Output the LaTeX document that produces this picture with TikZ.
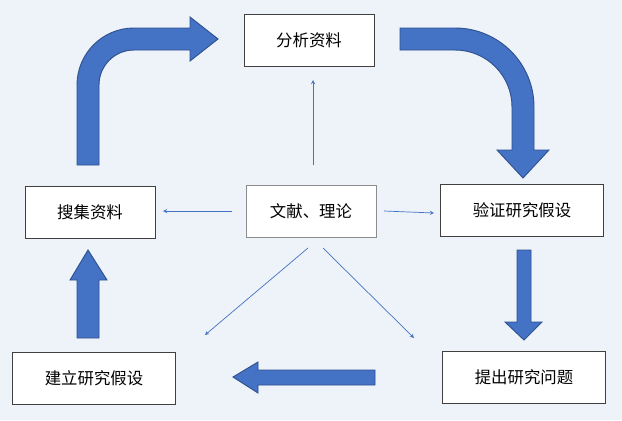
\documentclass[tikz,border=0pt]{standalone}
\usepackage{fontspec}
\newfontfamily\cjk{Noto Sans CJK SC}
\definecolor{bgblue}{HTML}{EEF2F9}
\definecolor{arrowblue}{HTML}{4472C4}
\definecolor{edgeblue}{HTML}{2F528F}
\tikzset{
  box/.style={draw=black!75,fill=white,line width=0.6pt,minimum height=1.56cm,
    inner sep=0pt,font=\cjk\fontsize{14}{16}\selectfont},
  thin/.style={draw=arrowblue,line width=0.6pt,-stealth},
  bigarrow/.style={fill=arrowblue,draw=edgeblue,line width=0.8pt}
}
\begin{document}
\begin{tikzpicture}[x=0.03cm,y=-0.03cm]
  \fill[bgblue] (0,0) rectangle (622,420);
  \useasboundingbox (0,0) rectangle (622,420);

  \node[box,minimum width=3.9cm] (fenxi) at (309,40) {分析资料};
  \node[box,minimum width=3.9cm] (souji) at (90,212) {搜集资料};
  \node[box,minimum width=3.9cm,draw=black!45] (wenxian) at (311,211) {文献、理论};
  \node[box,minimum width=4.9cm] (yanzheng) at (522,210) {验证研究假设};
  \node[box,minimum width=4.9cm] (jianli) at (94,378) {建立研究假设};
  \node[box,minimum width=4.9cm] (tichu) at (524,377) {提出研究问题};

  % thin arrows from the centre
  \coordinate (wt) at (313,165);
  \coordinate (wl) at (232,211);
  \coordinate (wr) at (384,211);
  \coordinate (wd1) at (308,248);
  \coordinate (wd2) at (323,248);
  \coordinate (et) at (313,80);
  \coordinate (el) at (163,211);
  \coordinate (er) at (434,213);
  \coordinate (ed1) at (205,335);
  \coordinate (ed2) at (414,338);
  \draw[thin] (wt) -- (et);
  \draw[thin] (wl) -- (el);
  \draw[thin] (wr) -- (er);
  \draw[thin] (wd1) -- (ed1);
  \draw[thin] (wd2) -- (ed2);

  % block arrows
  \draw[bigarrow] (77,165) -- (77,85) arc[start angle=180,end angle=270,radius=57]
    -- (190,28) -- (190,17) -- (218,39) -- (190,61) -- (190,50) -- (134,50)
    arc[start angle=270,end angle=180,radius=35] -- (99,165) -- cycle;
  \draw[bigarrow] (400,28) -- (455,28) arc[start angle=270,end angle=360,radius=79]
    -- (534,150) -- (549,150) -- (523,178) -- (497,150) -- (512,150) -- (512,107)
    arc[start angle=0,end angle=-90,radius=57] -- (400,50) -- cycle;
  \draw[bigarrow] (517,250) -- (531,250) -- (531,322) -- (542,322) -- (524,340)
    -- (505,322) -- (517,322) -- cycle;
  \draw[bigarrow] (375,370) -- (375,385) -- (258,385) -- (258,393) -- (233,377)
    -- (258,362) -- (258,370) -- cycle;
  \draw[bigarrow] (77,338) -- (77,280) -- (70,280) -- (88,250) -- (107,280)
    -- (99,280) -- (99,338) -- cycle;
\end{tikzpicture}
\end{document}
